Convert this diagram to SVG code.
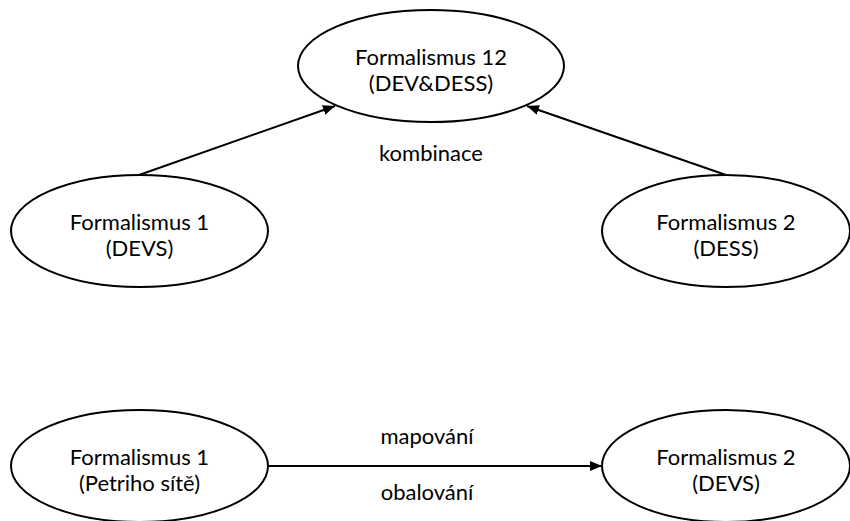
<svg xmlns="http://www.w3.org/2000/svg" width="850" height="521" viewBox="0 0 850 521">
  <style>
    .node ellipse { fill: #ffffff; stroke: #000000; stroke-width: 2; }
    text { font-family: Lato, "Liberation Sans", sans-serif; font-size: 22px; fill: #000000; text-anchor: middle; }
    .edge { stroke: #000000; stroke-width: 2; fill: none; marker-end: url(#arrow); }
  </style>
  <defs>
    <marker id="arrow" viewBox="0 0 12 10" refX="12" refY="5" markerWidth="12" markerHeight="10" markerUnits="userSpaceOnUse" orient="auto">
      <path d="M0,0 L12,5 L0,10 z" fill="#000000"/>
    </marker>
  </defs>
  <rect width="850" height="521" fill="#ffffff"/>
  <g id="connectors">
    <line class="edge" x1="139" y1="175" x2="335" y2="106"/>
    <line class="edge" x1="726" y1="175" x2="527" y2="106"/>
    <line class="edge" x1="268" y1="466" x2="602" y2="466"/>
    <text x="431" y="161">kombinace</text>
    <text x="427" y="444">mapování</text>
    <text x="427" y="500">obalování</text>
  </g>
  <g id="node-f12" class="node">
    <ellipse cx="431" cy="66" rx="133" ry="56"/>
    <text x="431" y="65">Formalismus 12</text>
    <text x="431" y="91">(DEV&amp;DESS)</text>
  </g>
  <g id="node-f1-devs" class="node">
    <ellipse cx="139.5" cy="231" rx="128.5" ry="56"/>
    <text x="139.5" y="230">Formalismus 1</text>
    <text x="139.5" y="256">(DEVS)</text>
  </g>
  <g id="node-f2-dess" class="node">
    <ellipse cx="726" cy="231" rx="124" ry="56"/>
    <text x="726" y="230">Formalismus 2</text>
    <text x="726" y="256">(DESS)</text>
  </g>
  <g id="node-f1-petri" class="node">
    <ellipse cx="139.5" cy="466" rx="128.5" ry="56"/>
    <text x="139.5" y="465">Formalismus 1</text>
    <text x="139.5" y="491">(Petriho sítě)</text>
  </g>
  <g id="node-f2-devs" class="node">
    <ellipse cx="726" cy="466" rx="124" ry="56"/>
    <text x="726" y="465">Formalismus 2</text>
    <text x="726" y="491">(DEVS)</text>
  </g>
</svg>
